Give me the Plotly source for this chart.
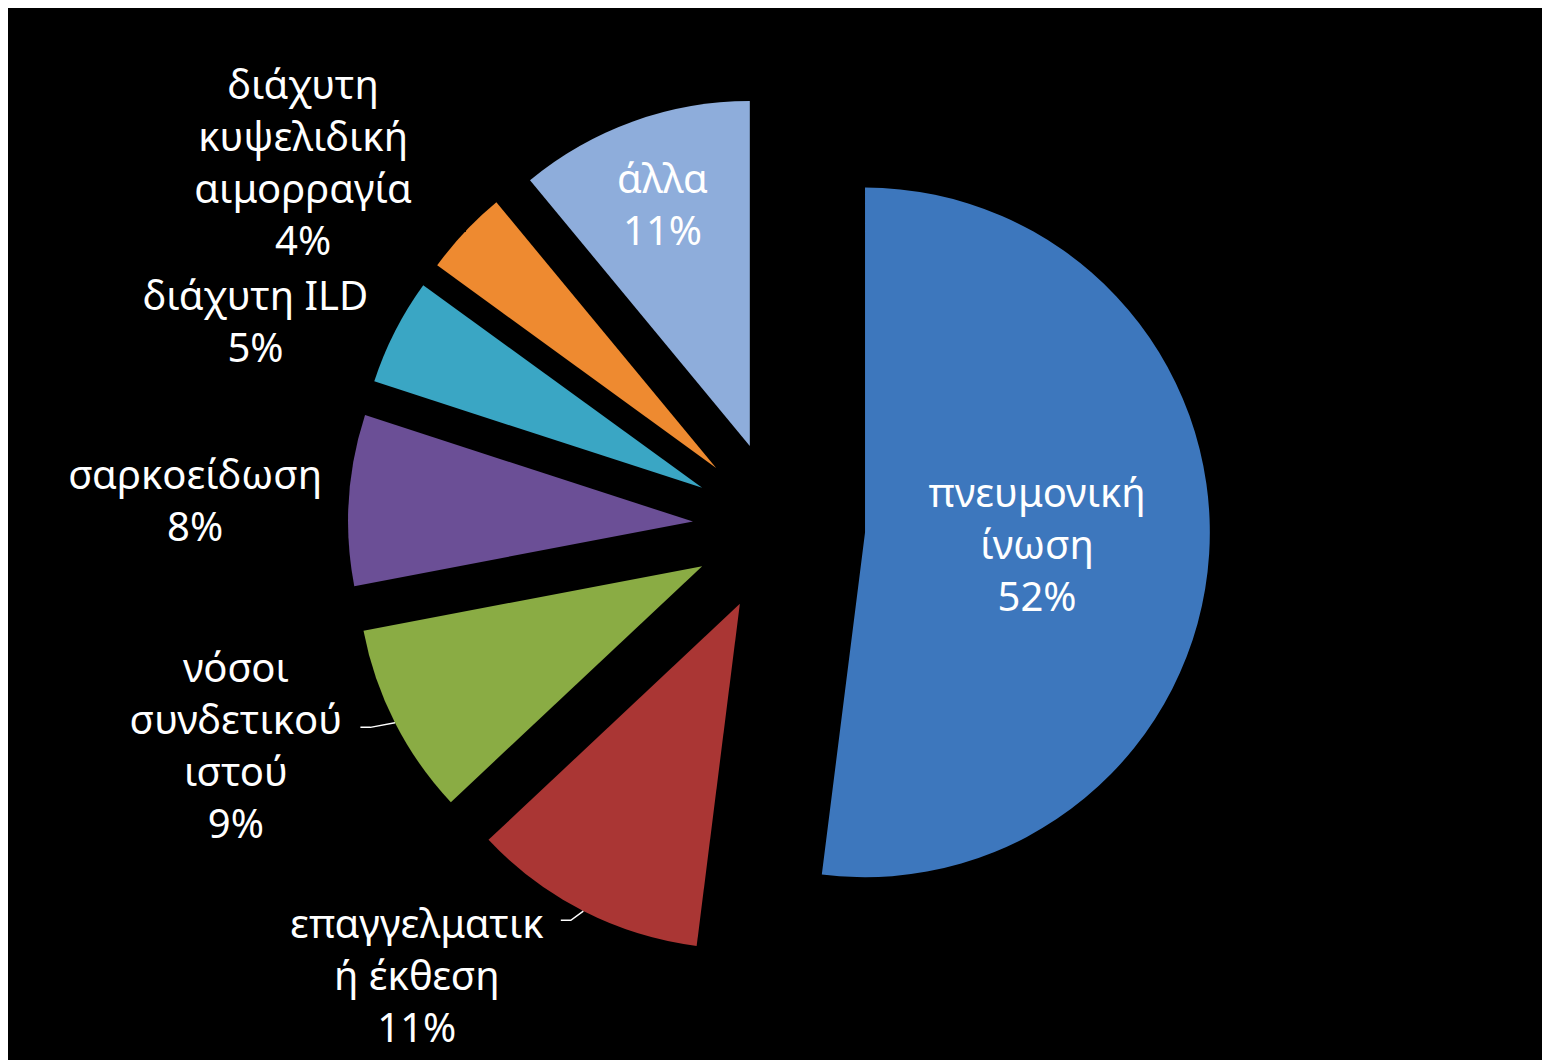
import math
import plotly.graph_objects as go

labels = [
    "πνευμονική<br>ίνωση",
    "επαγγελματικ<br>ή έκθεση",
    "νόσοι<br>συνδετικού<br>ιστού",
    "σαρκοείδωση",
    "διάχυτη ILD",
    "διάχυτη<br>κυψελιδική<br>αιμορραγία",
    "άλλα",
]
values = [52, 11, 9, 8, 5, 4, 11]
colors = ["#3d77bd", "#aa3634", "#8aac44", "#6b4f96", "#3aa6c4", "#ee8a30", "#8eaddb"]
positions = ["inside", "outside", "outside", "outside", "outside", "outside", "inside"]
# slices whose outside label is joined to the slice by a leader line
leader_slices = [1, 2]

W, H = 1550, 1060
CX, CY, HALF = 771, 519, 431
PULL = 0.25
FONT = 40

fig = go.Figure(go.Pie(
    labels=labels,
    values=values,
    sort=False,
    direction="clockwise",
    rotation=0,
    pull=[PULL] * len(values),
    marker=dict(colors=colors, line=dict(width=0)),
    texttemplate="%{label}<br>%{percent:.0%}",
    textposition=positions,
    insidetextorientation="horizontal",
    textfont=dict(family="Noto Sans", size=FONT, color="white"),
    outsidetextfont=dict(family="Noto Sans", size=FONT, color=["white"] * len(values)),
    domain=dict(x=[(CX - HALF) / W, (CX + HALF) / W],
                y=[(H - CY - HALF) / H, (H - CY + HALF) / H]),
    automargin=False,
    showlegend=False,
    hoverinfo="label+percent",
))

# leader lines, from the middle of each slice's outer arc outwards
r = HALF / (1 + PULL)
total = sum(values)
cum = 0
starts = []
for v in values:
    starts.append(cum)
    cum += v
for i in leader_slices:
    mid = (starts[i] + values[i] / 2) / total * 2 * math.pi
    dx, dy = math.sin(mid), -math.cos(mid)
    px = CX + dx * r * (1 + PULL)
    py = CY + dy * r * (1 + PULL)
    ex = px + dx * r * 0.08
    ey = py + dy * r * 0.03
    path = f"M {px / W} {1 - py / H} L {ex / W} {1 - ey / H} L {(ex - 10) / W} {1 - ey / H}"
    fig.add_shape(type="path", xref="paper", yref="paper", path=path,
                  line=dict(color="white", width=1.5))

fig.update_layout(
    width=W, height=H,
    margin=dict(l=0, r=0, t=0, b=0),
    paper_bgcolor="black",
    plot_bgcolor="black",
)
fig.write_html("out.html")
